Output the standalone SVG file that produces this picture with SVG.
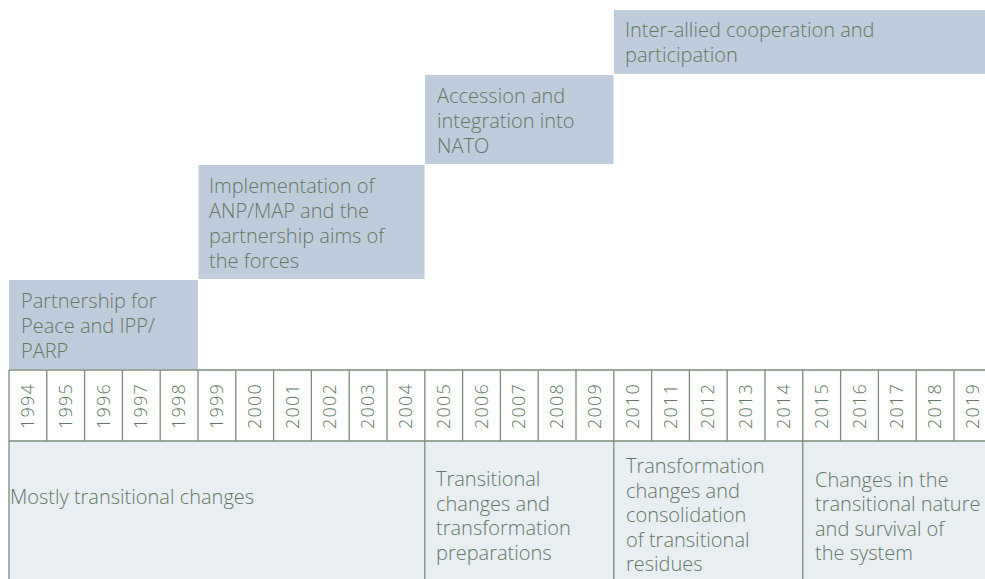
<svg xmlns="http://www.w3.org/2000/svg" width="985" height="579" viewBox="0 0 985 579">
<style>
.box{fill:#bfccdb}
.lbl{font-family:"Open Sans","Liberation Sans",sans-serif;font-weight:300;font-size:20px;fill:#637766}
.yr{font-family:"Open Sans","Liberation Sans",sans-serif;font-weight:300;font-size:18px;letter-spacing:1.2px;fill:#637766;text-anchor:middle}
.grid{fill:none;stroke:#7b8d7c;stroke-width:1.3}
</style>
<rect width="985" height="579" fill="#ffffff"/>
<rect x="9" y="441" width="976" height="138" fill="#e9eef3"/>

<g id="phase-partnership">
<rect class="box" x="9" y="280" width="189" height="89"/>
<text class="lbl"><tspan x="21" y="308">Partnership for</tspan><tspan x="21" y="333">Peace and IPP/</tspan><tspan x="21" y="358">PARP</tspan></text>
</g>
<g id="phase-implementation">
<rect class="box" x="198.5" y="165" width="226" height="114"/>
<text class="lbl"><tspan x="209" y="193.3">Implementation of</tspan><tspan x="209" y="218.3">ANP/MAP and the</tspan><tspan x="209" y="243.3">partnership aims of</tspan><tspan x="209" y="268.3">the forces</tspan></text>
</g>
<g id="phase-accession">
<rect class="box" x="425" y="75" width="188.5" height="89"/>
<text class="lbl"><tspan x="437" y="102.7">Accession and</tspan><tspan x="437" y="127.7">integration into</tspan><tspan x="437" y="152.7">NATO</tspan></text>
</g>
<g id="phase-interallied">
<rect class="box" x="614" y="10" width="371" height="64"/>
<text class="lbl"><tspan x="625" y="37.3">Inter-allied cooperation and</tspan><tspan x="625" y="62.3">participation</tspan></text>
</g>

<g id="connectors">
<path class="grid" d="M9,370H985M9,441H985M9,370V579M424.8,370V579M613.8,370V579M802.8,370V579M46.8,370V441M84.6,370V441M122.4,370V441M160.2,370V441M198,370V441M235.8,370V441M273.6,370V441M311.4,370V441M349.2,370V441M387,370V441M462.6,370V441M500.4,370V441M538.2,370V441M576,370V441M651.6,370V441M689.4,370V441M727.2,370V441M765,370V441M840.6,370V441M878.4,370V441M916.2,370V441M954,370V441"/>
</g>

<g id="years">
<text class="yr" transform="translate(34,406) rotate(-90)">1994</text>
<text class="yr" transform="translate(71.8,406) rotate(-90)">1995</text>
<text class="yr" transform="translate(109.6,406) rotate(-90)">1996</text>
<text class="yr" transform="translate(147.4,406) rotate(-90)">1997</text>
<text class="yr" transform="translate(185.2,406) rotate(-90)">1998</text>
<text class="yr" transform="translate(223,406) rotate(-90)">1999</text>
<text class="yr" transform="translate(260.8,406) rotate(-90)">2000</text>
<text class="yr" transform="translate(298.6,406) rotate(-90)">2001</text>
<text class="yr" transform="translate(336.4,406) rotate(-90)">2002</text>
<text class="yr" transform="translate(374.2,406) rotate(-90)">2003</text>
<text class="yr" transform="translate(412,406) rotate(-90)">2004</text>
<text class="yr" transform="translate(449.8,406) rotate(-90)">2005</text>
<text class="yr" transform="translate(487.6,406) rotate(-90)">2006</text>
<text class="yr" transform="translate(525.4,406) rotate(-90)">2007</text>
<text class="yr" transform="translate(563.2,406) rotate(-90)">2008</text>
<text class="yr" transform="translate(601,406) rotate(-90)">2009</text>
<text class="yr" transform="translate(638.8,406) rotate(-90)">2010</text>
<text class="yr" transform="translate(676.6,406) rotate(-90)">2011</text>
<text class="yr" transform="translate(714.4,406) rotate(-90)">2012</text>
<text class="yr" transform="translate(752.2,406) rotate(-90)">2013</text>
<text class="yr" transform="translate(790,406) rotate(-90)">2014</text>
<text class="yr" transform="translate(827.8,406) rotate(-90)">2015</text>
<text class="yr" transform="translate(865.6,406) rotate(-90)">2016</text>
<text class="yr" transform="translate(903.4,406) rotate(-90)">2017</text>
<text class="yr" transform="translate(941.2,406) rotate(-90)">2018</text>
<text class="yr" transform="translate(979,406) rotate(-90)">2019</text>
</g>

<g id="period-1">
<text class="lbl"><tspan x="10" y="504">Mostly transitional changes</tspan></text>
</g>
<g id="period-2">
<text class="lbl"><tspan x="436" y="486">Transitional</tspan><tspan x="436" y="510.5">changes and</tspan><tspan x="436" y="535">transformation</tspan><tspan x="436" y="559.5">preparations</tspan></text>
</g>
<g id="period-3">
<text class="lbl"><tspan x="626" y="473">Transformation</tspan><tspan x="626" y="497.5">changes and</tspan><tspan x="626" y="522">consolidation</tspan><tspan x="626" y="546.5">of transitional</tspan><tspan x="626" y="571">residues</tspan></text>
</g>
<g id="period-4">
<text class="lbl"><tspan x="815" y="486.5">Changes in the</tspan><tspan x="815" y="511">transitional nature</tspan><tspan x="815" y="535.5">and survival of</tspan><tspan x="815" y="560">the system</tspan></text>
</g>
</svg>
